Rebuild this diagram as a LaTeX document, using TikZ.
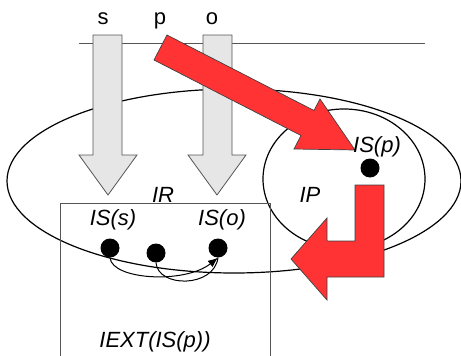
\documentclass[tikz,border=0pt]{standalone}
\usepackage{fontspec}
\setmainfont{Liberation Sans}
\usetikzlibrary{arrows.meta,shapes.geometric}
\definecolor{arrowgray}{RGB}{230,230,230}
\definecolor{edgegray}{RGB}{85,85,85}
\definecolor{hotred}{RGB}{255,51,51}
\tikzset{
  lbl/.style={anchor=base,inner sep=0pt,font=\fontsize{22}{26}\selectfont\itshape},
  top/.style={anchor=base,inner sep=0pt,font=\fontsize{22}{26}\selectfont},
  fatgray/.style={fill=arrowgray,draw=edgegray,line width=0.8pt},
  fatred/.style={fill=hotred,draw=black!75,line width=0.7pt},
  dot/.style={circle,fill=black,inner sep=0pt,minimum size=19pt},
  region/.style={ellipse,draw=black,line width=1.2pt,inner sep=0pt},
  link/.style={draw=black,line width=1pt}
}
\begin{document}
\begin{tikzpicture}[x=1pt,y=-1pt]
\useasboundingbox (0,0) rectangle (461,356);

% outer and inner regions
\node[region,minimum width=454pt,minimum height=184pt] (ir) at (234,181) {};
\node[region,minimum width=162pt,minimum height=140pt] (ip) at (344,179) {};

% extension box (runs past the lower edge)
\node[draw=edgegray,line width=0.9pt,minimum width=210pt,minimum height=200pt,
      anchor=north west,inner sep=0pt] (iext) at (60,203) {};

% horizontal rule
\coordinate (ruleL) at (79,43);
\coordinate (ruleR) at (425,43);
\draw[edgegray,line width=0.9pt] (ruleL) -- (ruleR);

% block arrows for s and o
\draw[fatgray] (93,35) -- (122,35) -- (122,155) -- (137,155) -- (108,195)
  -- (79,155) -- (93,155) -- cycle;
\draw[fatgray] (203,35) -- (232,35) -- (232,155) -- (246,155) -- (217,195)
  -- (188,155) -- (203,155) -- cycle;

% red arrow from p into IP
\draw[fatred] (167,35) -- (314,110.5) -- (320,99) -- (355,150) -- (294,149)
  -- (301,135.5) -- (154,60) -- cycle;

% bent red arrow out of IP
\draw[fatred] (355,185) -- (384,185) -- (384,277) -- (327,277) -- (327,300)
  -- (291,259) -- (327,218) -- (327,241) -- (355,241) -- cycle;

% labels
\node[top] (ls) at (103,24) {s};
\node[top] (lp) at (160,24) {p};
\node[top] (lo) at (212,24) {o};
\node[lbl] (lisp) at (377,152) {IS(p)};
\node[lbl] (lir) at (163,202) {IR};
\node[lbl] (lip) at (310,202) {IP};
\node[lbl] (liss) at (113,225) {IS(s)};
\node[lbl] (liso) at (222,225) {IS(o)};
\node[lbl] (lext) at (155,347) {IEXT(IS(p))};

% individuals
\node[dot] (sp) at (370,168) {};
\node[dot] (ss) at (110,248) {};
\node[dot] (sm) at (156,253) {};
\node[dot] (so) at (218,248) {};

% links between individuals
\draw[link,-{Latex[length=10pt,width=8pt]}] (ss.south) .. controls (112,280) and (185,284) .. (so.south);
\draw[link] (sm.south) .. controls (158,288) and (214,288) .. (so.south);
\end{tikzpicture}
\end{document}
